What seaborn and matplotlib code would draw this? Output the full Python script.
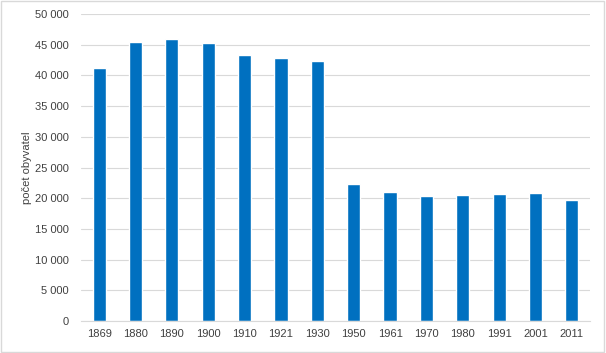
import numpy as np
import pandas as pd
import matplotlib
matplotlib.use("Agg")
import matplotlib.pyplot as plt
import seaborn as sns
from matplotlib.ticker import FuncFormatter, MultipleLocator
from matplotlib.patches import Rectangle

roky = ['1869', '1880', '1890', '1900', '1910', '1921', '1930',
        '1950', '1961', '1970', '1980', '1991', '2001', '2011']
obyvatele = [41200, 45400, 45900, 45200, 43300, 42800, 42300,
             22300, 21000, 20350, 20500, 20700, 20850, 19700]

df = pd.DataFrame({'rok': roky, 'pocet': obyvatele})

sns.set_theme(style="white")
plt.rcParams['font.family'] = ['Liberation Sans', 'DejaVu Sans']

fig = plt.figure(figsize=(6.06, 3.53), dpi=100)
ax = fig.add_axes([81/606, 32/353, 509/606, 307/353])

sns.barplot(data=df, x='rok', y='pocet', color='#0070C0', saturation=1,
            width=0.36, ax=ax)

ax.set_ylim(0, 50000)
ax.yaxis.set_major_locator(MultipleLocator(5000))
ax.yaxis.set_major_formatter(FuncFormatter(lambda v, p: f"{int(v):,}".replace(",", " ")))
ax.grid(axis='y', color='#d9d9d9', linewidth=0.8)
ax.set_axisbelow(True)

for s in ['top', 'right', 'left']:
    ax.spines[s].set_visible(False)
ax.spines['bottom'].set_color('#d9d9d9')
ax.spines['bottom'].set_linewidth(0.8)

ax.tick_params(axis='y', length=0, labelsize=8, colors='#404040', pad=9)
ax.tick_params(axis='x', length=0, labelsize=8, colors='#404040', pad=6)
ax.set_xlabel('')
ax.set_ylabel('počet obyvatel', fontsize=8, color='#404040', labelpad=2)

fig.patches.append(Rectangle((0.002, 0.003), 0.995, 0.993, transform=fig.transFigure,
                             fill=False, edgecolor='#d9d9d9', linewidth=1))

fig.savefig('out.png', dpi=100)
